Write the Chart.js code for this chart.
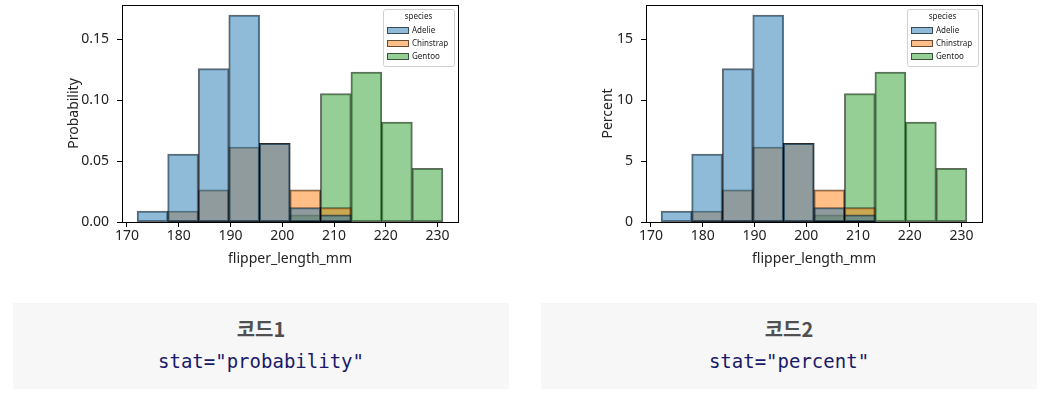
<!DOCTYPE html>
<html>
<head>
<meta charset="utf-8">
<script src="https://cdn.jsdelivr.net/npm/chart.js@4/dist/chart.umd.min.js"></script>
<style>
  body { margin: 0; background: #fff; width: 1048px; height: 397px; position: relative; overflow: hidden; }
  canvas { position: absolute; top: 0; }
  .box { position: absolute; top: 303px; width: 496px; height: 86px; background: #f7f7f7; text-align: center; }
  .box .ttl { position: absolute; left: 0; right: 0; top: 11px; font: bold 20px "Noto Sans CJK KR", "Noto Sans", sans-serif; color: #505050; }
  .box .code { position: absolute; left: 0; right: 0; top: 47px; font: 19px "DejaVu Sans Mono", "Liberation Mono", monospace; color: #1a1a6b; }
</style>
</head>
<body>
<canvas id="probChart" width="470" height="280" style="left:0px"></canvas>
<canvas id="pctChart" width="450" height="280" style="left:540px"></canvas>
<div class="box" style="left:13px"><div class="ttl">코드1</div><div class="code">stat="probability"</div></div>
<div class="box" style="left:541px"><div class="ttl">코드2</div><div class="code">stat="percent"</div></div>
<script>
// histogram bins (flipper_length_mm)
const binEdges = [172, 177.9, 183.8, 189.7, 195.6, 201.5, 207.4, 213.3, 219.2, 225.1, 231];
const species = ['Adelie', 'Chinstrap', 'Gentoo'];

// stat="probability"
const adelieProb = [0.0088, 0.0556, 0.1257, 0.1696, 0.0643, 0.0117, 0.0058, 0, 0, 0];
const chinstrapProb = [0, 0.0088, 0.0263, 0.0614, 0.0643, 0.0263, 0.0117, 0, 0, 0];
const gentooProb = [0, 0, 0, 0, 0, 0.0058, 0.1053, 0.1228, 0.0819, 0.0439];

// stat="percent"
const adeliePct = [0.88, 5.56, 12.57, 16.96, 6.43, 1.17, 0.58, 0, 0, 0];
const chinstrapPct = [0, 0.88, 2.63, 6.14, 6.43, 2.63, 1.17, 0, 0, 0];
const gentooPct = [0, 0, 0, 0, 0, 0.58, 10.53, 12.28, 8.19, 4.39];

const xTicks = [170, 180, 190, 200, 210, 220, 230];
const probTicks = [0, 0.05, 0.10, 0.15];
const pctTicks = [0, 5, 10, 15];

const fills = ['rgba(31,119,180,0.5)', 'rgba(255,127,14,0.5)', 'rgba(44,160,44,0.5)'];
const EDGE = 'rgba(0,0,0,0.6)';
const FONT = '"Noto Sans", "Noto Sans CJK KR", sans-serif';

const binCenters = binEdges.slice(0, -1).map((e, i) => (e + binEdges[i + 1]) / 2);

function makeDatasets(series) {
    return series.map((vals, k) => ({
        label: species[k],
        data: vals.map((v, i) => ({ x: binCenters[i], y: v })),
        backgroundColor: fills[k],
        borderColor: EDGE,
        borderWidth: 1,
        borderSkipped: false,
        inflateAmount: 0.5,
        barPercentage: 1,
        categoryPercentage: 1,
    }));
}

// axes frame + inside legend, like matplotlib
const frameLegend = {
    id: 'frameLegend',
    afterDraw(chart) {
        const { ctx, chartArea: a } = chart;
        ctx.save();
        ctx.strokeStyle = '#000';
        ctx.lineWidth = 1;
        ctx.strokeRect(Math.round(a.left) + 0.5, Math.round(a.top) + 0.5,
            Math.round(a.right - a.left), Math.round(a.bottom - a.top));

        const w = 71, h = 57;
        const bx = Math.round(a.right - w - 4), by = Math.round(a.top + 4);
        ctx.fillStyle = 'rgba(255,255,255,0.8)';
        ctx.strokeStyle = '#d0d0d0';
        ctx.beginPath();
        ctx.roundRect(bx + 0.5, by + 0.5, w, h, 2);
        ctx.fill();
        ctx.stroke();

        ctx.font = '8px ' + FONT;
        ctx.fillStyle = '#222';
        ctx.textBaseline = 'middle';
        ctx.textAlign = 'center';
        ctx.fillText('species', bx + w / 2, by + 8);
        ctx.textAlign = 'left';
        chart.data.datasets.forEach((ds, i) => {
            const y = by + 21.5 + i * 13;
            ctx.fillStyle = ds.backgroundColor;
            ctx.fillRect(bx + 4, y - 3.5, 22, 7);
            ctx.strokeStyle = EDGE;
            ctx.strokeRect(bx + 4.5, y - 3, 21, 6);
            ctx.fillStyle = '#222';
            ctx.fillText(ds.label, bx + 29, y);
        });
        ctx.restore();
    }
};

function makeChart(id, series, yMax, yTicks, yLabel, yFmt, padLeft, yWidth, padRight) {
    const ctx = document.getElementById(id).getContext('2d');
    return new Chart(ctx, {
        type: 'bar',
        data: { datasets: makeDatasets(series) },
        options: {
            responsive: false,
            animation: false,
            devicePixelRatio: 1,
            layout: { padding: { left: padLeft, right: padRight, top: 5, bottom: 10 } },
            plugins: { legend: { display: false }, tooltip: { enabled: false } },
            scales: {
                x: {
                    type: 'linear',
                    stacked: true,
                    offset: false,
                    min: 169.05,
                    max: 233.95,
                    afterBuildTicks: s => { s.ticks = xTicks.map(v => ({ value: v })); },
                    afterFit: s => { s.height = 48; s.paddingLeft = 0; s.paddingRight = 0; },
                    border: { display: false },
                    grid: { offset: false, drawOnChartArea: false, drawTicks: true, tickLength: 5, color: '#000' },
                    ticks: { color: '#222', font: { family: FONT, size: 14 }, padding: 1, maxRotation: 0 },
                    title: { display: true, text: 'flipper_length_mm', color: '#222', font: { family: FONT, size: 14 }, padding: { top: 4, bottom: 3 } },
                },
                y: {
                    stacked: false,
                    min: 0,
                    max: yMax,
                    afterBuildTicks: s => { s.ticks = yTicks.map(v => ({ value: v })); },
                    afterFit: s => { s.width = yWidth; s.paddingTop = 0; s.paddingBottom = 0; },
                    border: { display: false },
                    grid: { drawOnChartArea: false, drawTicks: true, tickLength: 5, color: '#000' },
                    ticks: { color: '#222', font: { family: FONT, size: 14 }, padding: 8, callback: yFmt },
                    title: { display: true, text: yLabel, color: '#222', font: { family: FONT, size: 14 } },
                },
            },
        },
        plugins: [frameLegend],
    });
}

makeChart('probChart', [adelieProb, chinstrapProb, gentooProb], 0.178, probTicks,
    'Probability', v => v.toFixed(2), 62, 60, 12);
makeChart('pctChart', [adeliePct, chinstrapPct, gentooPct], 17.8, pctTicks,
    'Percent', v => String(v), 56, 50, 8);
</script>
</body>
</html>
